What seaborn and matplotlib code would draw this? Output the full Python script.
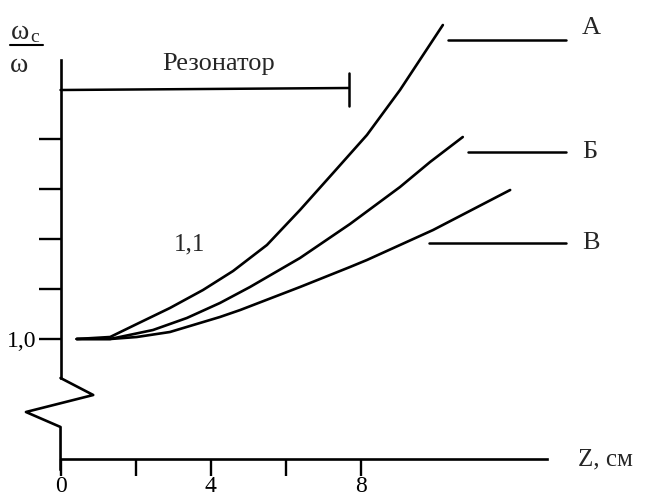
import matplotlib
matplotlib.use('Agg')
import matplotlib.pyplot as plt
import seaborn as sns
import pandas as pd

# Curves: Z (cm) and omega_c / omega
z_a = [0.43, 1.32, 2.03, 2.91, 3.79, 4.59, 5.49, 6.37, 7.25, 8.15, 9.03, 10.17]
y_a = [1.000, 1.002, 1.015, 1.031, 1.049, 1.068, 1.094, 1.129, 1.166, 1.204, 1.249, 1.314]
z_b = [0.43, 1.32, 2.46, 3.36, 4.24, 5.04, 6.37, 7.70, 9.03, 9.83, 10.70]
y_b = [1.000, 1.000, 1.009, 1.021, 1.036, 1.052, 1.081, 1.115, 1.152, 1.177, 1.202]
z_v = [0.43, 1.32, 2.03, 2.91, 4.24, 4.78, 6.37, 7.70, 8.15, 9.91, 11.96]
y_v = [1.000, 1.000, 1.002, 1.007, 1.022, 1.029, 1.052, 1.072, 1.079, 1.109, 1.149]

curve_names = ['А', 'Б', 'В']
x_ticks = [0, 2, 4, 6, 8]
x_tick_labels = ['0', '', '4', '', '8']
y_ticks = [1.0, 1.05, 1.1, 1.15, 1.2]
y_tick_labels = ['1,0', '', '', '', '']

# label lines for the curves: (start z, y) and text baselines
label_lines = {'А': (10.31, 1.299), 'Б': (10.84, 1.187), 'В': (9.80, 1.096)}
label_text_y = {'А': 1.305, 'Б': 1.181, 'В': 1.090}

resonator_end = 7.66
resonator_y = 1.249

sns.set_theme(style='white')
plt.rcParams['font.family'] = ['Liberation Serif', 'DejaVu Serif']

frames = []
for name, zz, yy in zip(curve_names, [z_a, z_b, z_v], [y_a, y_b, y_v]):
    frames.append(pd.DataFrame({'Z': zz, 'w': yy, 'curve': name}))
data = pd.concat(frames, ignore_index=True)

fig = plt.figure(figsize=(6.47, 4.97), dpi=100)
ax = fig.add_axes([0, 0, 1, 1])

sns.lineplot(data=data, x='Z', y='w', hue='curve', units='curve', estimator=None,
             palette=['black'] * 3, linewidth=1.9, legend=False, sort=False, ax=ax)

ax.set_xlim(-1.61, 15.6)
ax.set_ylim(0.842, 1.339)
ax.set_xlabel('')
ax.set_ylabel('')

for s in ['top', 'right']:
    ax.spines[s].set_visible(False)
ax.spines['left'].set_position(('data', 0))
ax.spines['left'].set_bounds(0.961, 1.279)
ax.spines['bottom'].set_position(('data', 0.88))
ax.spines['bottom'].set_bounds(0, 12.95)
for s in ['left', 'bottom']:
    ax.spines[s].set_color('black')
    ax.spines[s].set_linewidth(1.9)

ax.set_xticks(x_ticks)
ax.set_xticklabels(x_tick_labels)
ax.set_yticks(y_ticks)
ax.set_yticklabels(y_tick_labels)
ax.tick_params(axis='y', left=True, direction='out', length=16, width=1.7,
               color='black', labelsize=17, labelcolor='black', pad=1)
ax.tick_params(axis='x', bottom=True, direction='out', length=12, width=1.7,
               color='black', labelsize=17, labelcolor='black', pad=0)

# axis break zigzag
ax.plot([0, 0.87, -0.92, 0, 0], [0.961, 0.944, 0.927, 0.912, 0.869],
        color='black', lw=1.9, clip_on=False)

# resonator span
ax.plot([0, resonator_end], [resonator_y, resonator_y + 0.002], color='black', lw=1.8)
ax.plot([resonator_end, resonator_end], [1.233, 1.266], color='black', lw=1.8)
ax.text(4.21, 1.269, 'Резонатор', fontsize=19, ha='center', va='baseline')

# curve labels
for name in curve_names:
    z0, yl = label_lines[name]
    ax.plot([z0, 13.44], [yl, yl], color='black', lw=1.8)
    ax.text(13.87, label_text_y[name], name, fontsize=19, ha='left', va='baseline')

ax.text(3.42, 1.089, '1,1', fontsize=18, ha='center', va='baseline')
ax.text(13.76, 0.874, 'Z, см', fontsize=18, ha='left', va='baseline')

# omega_c / omega label
ax.text(-1.31, 1.300, 'ω', fontsize=20, ha='left', va='baseline')
ax.text(-0.80, 1.297, 'c', fontsize=14, ha='left', va='baseline')
ax.plot([-1.34, -0.46], [1.294, 1.294], color='black', lw=1.5, clip_on=False)
ax.text(-1.36, 1.267, 'ω', fontsize=20, ha='left', va='baseline')

fig.savefig('out.png', dpi=100)
